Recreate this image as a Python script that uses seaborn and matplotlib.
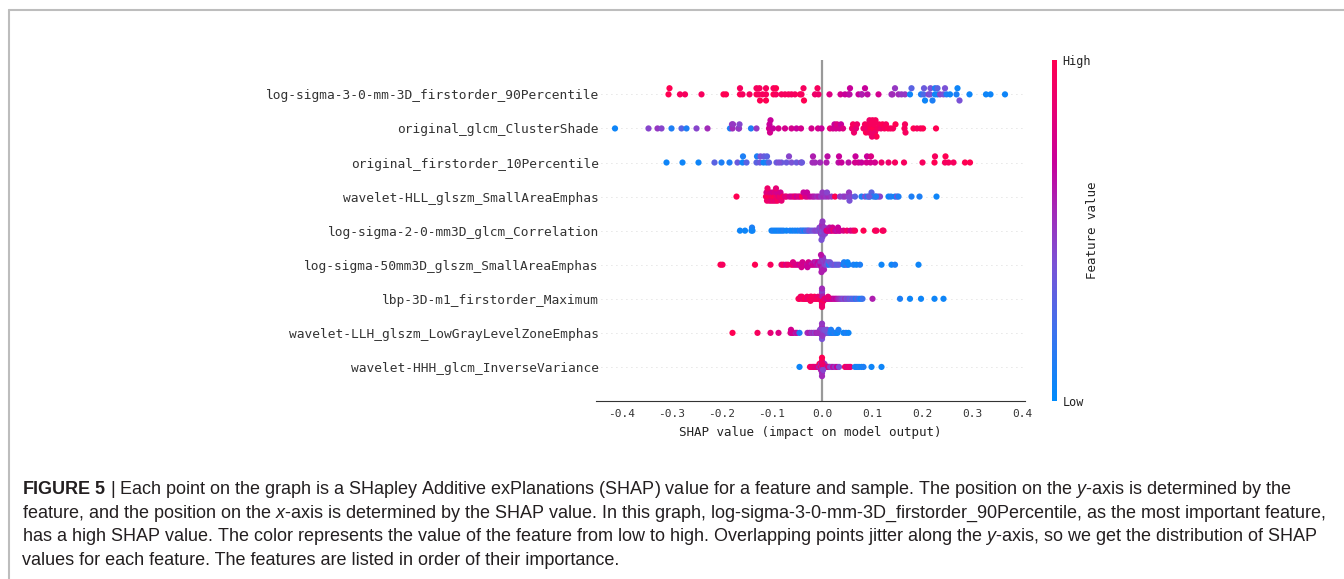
import numpy as np
import pandas as pd
import matplotlib
matplotlib.use("Agg")
import matplotlib.pyplot as plt
import seaborn as sns
from matplotlib import font_manager
from matplotlib.colors import LinearSegmentedColormap, Normalize
from matplotlib.cm import ScalarMappable
from matplotlib.lines import Line2D

# feature names, most important first
features = [
    "log-sigma-3-0-mm-3D_firstorder_90Percentile",
    "original_glcm_ClusterShade",
    "original_firstorder_10Percentile",
    "wavelet-HLL_glszm_SmallAreaEmphas",
    "log-sigma-2-0-mm3D_glcm_Correlation",
    "log-sigma-50mm3D_glszm_SmallAreaEmphas",
    "lbp-3D-m1_firstorder_Maximum",
    "wavelet-LLH_glszm_LowGrayLevelZoneEmphas",
    "wavelet-HHH_glcm_InverseVariance",
]

x_ticks = [-0.4, -0.3, -0.2, -0.1, 0.0, 0.1, 0.2, 0.3, 0.4]
x_tick_labels = ["-0.4", "-0.3", "-0.2", "-0.1", "0.0", "0.1", "0.2", "0.3", "0.4"]

# SHAP values and (scaled) feature values, one pair per row
shap_r1 = [-0.307, -0.305, -0.284, -0.274, -0.241, -0.197, -0.192, -0.164, -0.164, -0.159,
           -0.145, -0.131, -0.131, -0.127, -0.125, -0.124, -0.119, -0.112, -0.112, -0.112,
           -0.097, -0.097, -0.092, -0.092, -0.081, -0.074, -0.067, -0.061, -0.054, -0.044,
           -0.041, -0.037, -0.036, -0.014, -0.009, -0.007, 0.015, 0.037, 0.046, 0.053,
           0.055, 0.056, 0.073, 0.079, 0.080, 0.086, 0.091, 0.113, 0.139, 0.141,
           0.146, 0.153, 0.159, 0.166, 0.176, 0.179, 0.198, 0.203, 0.204, 0.206,
           0.213, 0.216, 0.217, 0.221, 0.226, 0.226, 0.231, 0.231, 0.236, 0.243,
           0.246, 0.249, 0.256, 0.269, 0.271, 0.275, 0.295, 0.328, 0.337, 0.366]
feat_r1 = [1.0, 1.0, 0.95, 0.95, 0.95, 1.0, 1.0, 1.0, 0.95, 0.95,
           0.95, 1.0, 0.95, 0.95, 0.95, 1.0, 0.95, 0.95, 0.95, 1.0,
           1.0, 0.95, 0.95, 1.0, 0.95, 0.95, 0.95, 0.95, 0.95, 1.0,
           0.95, 0.95, 1.0, 0.9, 0.95, 0.9, 0.8, 0.75, 0.7, 0.72,
           0.65, 0.7, 0.7, 0.65, 0.6, 0.7, 0.65, 0.75, 0.55, 0.55,
           0.5, 0.55, 0.5, 0.5, 0.05, 0.3, 0.1, 0.25, 0.35, 0.05,
           0.45, 0.4, 0.4, 0.1, 0.05, 0.1, 0.05, 0.3, 0.45, 0.4,
           0.4, 0.1, 0.05, 0.1, 0.05, 0.4, 0.05, 0.05, 0.05, 0.05]

shap_r2 = [-0.414, -0.347, -0.329, -0.321, -0.301, -0.281, -0.271, -0.251, -0.229, -0.184,
           -0.180, -0.179, -0.178, -0.167, -0.166, -0.165, -0.142, -0.131, -0.106, -0.105,
           -0.104, -0.103, -0.098, -0.087, -0.074, -0.061, -0.051, -0.042, -0.021, -0.008,
           -0.001, 0.016, 0.022, 0.025, 0.028, 0.030, 0.035, 0.038, 0.042, 0.060,
           0.062, 0.064, 0.068, 0.070, 0.083, 0.085, 0.086, 0.088, 0.090, 0.092,
           0.094, 0.095, 0.097, 0.098, 0.100, 0.101, 0.103, 0.104, 0.106, 0.107,
           0.109, 0.112, 0.114, 0.118, 0.121, 0.125, 0.128, 0.132, 0.137, 0.142,
           0.147, 0.165, 0.166, 0.167, 0.183, 0.190, 0.197, 0.202, 0.228, 0.100]
feat_r2 = [0.05, 0.45, 0.5, 0.45, 0.1, 0.3, 0.1, 0.45, 0.55, 0.1,
           0.5, 0.55, 0.5, 0.45, 0.5, 0.45, 0.1, 0.5, 0.75, 0.7,
           0.75, 0.7, 0.7, 0.75, 0.75, 0.75, 0.7, 0.75, 0.75, 0.75,
           0.7, 0.85, 0.75, 0.7, 0.75, 0.8, 0.75, 0.7, 0.8, 0.9,
           0.95, 0.9, 0.85, 0.9, 0.95, 0.9, 0.95, 1.0, 0.9, 0.95,
           0.95, 0.9, 1.0, 0.95, 0.9, 0.95, 1.0, 0.95, 0.9, 0.95,
           1.0, 0.95, 0.95, 0.9, 1.0, 0.95, 0.95, 1.0, 0.95, 0.95,
           1.0, 0.95, 0.95, 0.95, 1.0, 0.95, 0.95, 1.0, 1.0, 0.9]

shap_r3 = [-0.311, -0.279, -0.247, -0.215, -0.201, -0.185, -0.169, -0.159, -0.158, -0.151,
           -0.131, -0.130, -0.124, -0.123, -0.117, -0.116, -0.111, -0.110, -0.106, -0.091,
           -0.081, -0.071, -0.061, -0.051, -0.042, -0.040, -0.019, -0.018, -0.014, -0.004,
           0.009, 0.033, 0.034, 0.039, 0.053, 0.066, 0.067, 0.073, 0.079, 0.089,
           0.090, 0.097, 0.098, 0.106, 0.119, 0.133, 0.146, 0.164, 0.201, 0.225,
           0.226, 0.246, 0.247, 0.253, 0.263, 0.286, 0.296, -0.086, -0.066, 0.011]
feat_r3 = [0.05, 0.05, 0.05, 0.3, 0.1, 0.1, 0.35, 0.05, 0.1, 0.3,
           0.3, 0.1, 0.35, 0.4, 0.05, 0.35, 0.1, 0.3, 0.3, 0.35,
           0.35, 0.35, 0.4, 0.35, 0.45, 0.35, 0.55, 0.6, 0.55, 0.55,
           0.6, 0.65, 0.7, 0.7, 0.65, 0.75, 0.7, 0.75, 0.7, 0.75,
           0.7, 0.75, 0.8, 0.75, 0.9, 0.9, 0.95, 0.95, 0.95, 1.0,
           0.95, 0.95, 1.0, 0.95, 0.95, 1.0, 1.0, 0.4, 0.45, 0.65]

shap_r4 = [-0.171, -0.112, -0.111, -0.110, -0.108, -0.107, -0.105, -0.103, -0.103, -0.101,
           -0.099, -0.098, -0.097, -0.095, -0.095, -0.093, -0.091, -0.090, -0.089, -0.086,
           -0.084, -0.083, -0.081, -0.078, -0.074, -0.071, -0.061, -0.057, -0.054, -0.051,
           -0.047, -0.044, -0.040, -0.037, -0.033, -0.029, -0.024, -0.019, -0.015, -0.010,
           -0.006, -0.002, 0.003, 0.008, 0.013, 0.019, 0.026, 0.036, 0.042, 0.046,
           0.053, 0.054, 0.055, 0.057, 0.066, 0.079, 0.086, 0.091, 0.096, 0.099,
           0.103, 0.107, 0.112, 0.116, 0.133, 0.138, 0.146, 0.150, 0.153, 0.179,
           0.195, 0.229, -0.065, -0.030, 0.001, 0.010, 0.094, 0.108, -0.109, -0.092]
feat_r4 = [1.0, 0.95, 0.8, 0.9, 1.0, 0.85, 0.9, 0.95, 0.8, 0.85,
           0.95, 0.75, 0.9, 1.0, 0.8, 0.85, 0.9, 0.75, 0.95, 0.8,
           0.9, 0.75, 0.85, 0.95, 0.8, 0.85, 0.8, 0.75, 0.95, 0.7,
           0.85, 0.75, 1.0, 0.7, 0.75, 0.8, 0.7, 0.65, 0.6, 0.55,
           0.6, 0.5, 0.55, 0.5, 0.55, 0.5, 1.0, 0.5, 0.45, 0.5,
           0.45, 0.5, 0.4, 0.45, 0.3, 0.1, 0.4, 0.1, 0.05, 0.3,
           0.1, 0.35, 0.4, 0.45, 0.05, 0.1, 0.05, 0.4, 0.1, 0.1,
           0.1, 0.05, 0.75, 0.7, 0.5, 0.45, 0.35, 0.1, 0.9, 0.85]

shap_r5 = [-0.164, -0.154, -0.141, -0.140, -0.139, -0.101, -0.097, -0.093, -0.089, -0.085,
           -0.081, -0.077, -0.071, -0.064, -0.059, -0.054, -0.049, -0.044, -0.041, -0.038,
           -0.035, -0.032, -0.029, -0.027, -0.024, -0.020, -0.016, -0.013, -0.009, -0.007,
           -0.005, -0.004, -0.003, -0.002, -0.001, 0.000, 0.000, 0.000, 0.001, 0.001,
           0.002, 0.003, 0.004, 0.005, 0.006, 0.009, 0.011, 0.013, 0.015, 0.017,
           0.019, 0.021, 0.023, 0.026, 0.028, 0.030, 0.032, 0.034, 0.036, 0.043,
           0.050, 0.057, 0.062, 0.066, 0.083, 0.106, 0.109, 0.121, 0.123, -0.001]
feat_r5 = [0.05, 0.05, 0.05, 0.1, 0.05, 0.05, 0.1, 0.05, 0.05, 0.1,
           0.05, 0.1, 0.05, 0.1, 0.05, 0.1, 0.05, 0.15, 0.1, 0.2,
           0.05, 0.3, 0.15, 0.35, 0.4, 0.35, 0.4, 0.45, 0.45, 0.4,
           0.5, 0.45, 0.4, 0.5, 0.45, 0.5, 0.4, 0.55, 0.45, 0.5,
           0.4, 0.55, 0.45, 0.5, 0.45, 0.7, 0.9, 0.75, 0.65, 0.8,
           0.7, 0.75, 0.9, 0.7, 0.75, 0.65, 0.7, 0.75, 0.7, 0.8,
           0.9, 0.75, 0.85, 0.95, 1.0, 1.0, 0.95, 1.0, 0.95, 0.4]

shap_r6 = [-0.203, -0.199, -0.134, -0.103, -0.081, -0.077, -0.072, -0.061, -0.057, -0.053,
           -0.049, -0.045, -0.042, -0.039, -0.036, -0.033, -0.030, -0.027, -0.024, -0.021,
           -0.018, -0.016, -0.014, -0.012, -0.010, -0.008, -0.006, -0.004, -0.003, -0.002,
           -0.001, 0.000, 0.000, 0.000, 0.001, 0.001, 0.002, 0.003, 0.004, 0.006,
           0.008, 0.010, 0.012, 0.014, 0.016, 0.019, 0.022, 0.026, 0.030, 0.034,
           0.043, 0.046, 0.050, 0.053, 0.063, 0.069, 0.076, 0.119, 0.139, 0.146,
           0.193, -0.001, 0.002, -0.002, 0.044, 0.051, -0.068, -0.058, -0.041, -0.029]
feat_r6 = [1.0, 0.95, 1.0, 0.95, 0.85, 0.95, 0.8, 0.85, 0.9, 0.75,
           0.8, 0.7, 0.85, 0.75, 0.7, 0.8, 0.65, 0.75, 0.7, 0.6,
           0.75, 0.65, 0.7, 0.6, 0.65, 0.7, 0.55, 0.6, 0.7, 0.5,
           0.65, 0.55, 0.6, 0.45, 0.7, 0.5, 0.55, 0.45, 0.6, 0.45,
           0.5, 0.4, 0.35, 0.1, 0.4, 0.3, 0.35, 0.4, 0.3, 0.35,
           0.05, 0.1, 0.3, 0.05, 0.1, 0.05, 0.1, 0.05, 0.05, 0.1,
           0.05, 0.6, 0.5, 0.65, 0.1, 0.05, 0.9, 0.8, 0.75, 0.7]

shap_r7 = [-0.047, -0.045, -0.043, -0.040, -0.040, -0.037, -0.035, -0.033, -0.030, -0.030,
           -0.028, -0.025, -0.023, -0.023, -0.020, -0.018, -0.015, -0.015, -0.012, -0.010,
           -0.008, -0.006, -0.004, -0.002, -0.001, -0.001, 0.000, 0.000, 0.000, 0.000,
           0.000, 0.000, 0.000, 0.001, 0.001, 0.003, 0.005, 0.007, 0.010, 0.013,
           0.016, 0.019, 0.022, 0.025, 0.028, 0.031, 0.034, 0.037, 0.040, 0.043,
           0.046, 0.049, 0.052, 0.055, 0.058, 0.061, 0.064, 0.067, 0.070, 0.074,
           0.078, 0.081, 0.101, 0.156, 0.176, 0.198, 0.225, 0.243, -0.021, 0.012]
feat_r7 = [1.0, 0.95, 0.9, 1.0, 0.95, 0.85, 0.95, 1.0, 0.9, 0.95,
           0.85, 1.0, 0.9, 0.95, 1.0, 0.9, 0.95, 1.0, 0.9, 0.95,
           0.85, 1.0, 0.9, 0.95, 0.8, 0.9, 0.95, 1.0, 0.5, 0.85,
           0.45, 0.9, 0.55, 1.0, 0.6, 0.95, 0.85, 0.9, 0.8, 0.75,
           0.8, 0.7, 0.75, 0.65, 0.7, 0.6, 0.55, 0.5, 0.45, 0.4,
           0.5, 0.35, 0.45, 0.3, 0.4, 0.2, 0.35, 0.1, 0.3, 0.15,
           0.05, 0.2, 0.6, 0.1, 0.05, 0.05, 0.05, 0.05, 0.95, 0.85]

shap_r8 = [-0.179, -0.129, -0.103, -0.087, -0.063, -0.060, -0.057, -0.053, -0.050, -0.045,
           -0.029, -0.025, -0.021, -0.017, -0.014, -0.011, -0.008, -0.006, -0.004, -0.002,
           -0.001, 0.000, 0.000, 0.000, 0.000, 0.000, 0.001, 0.002, 0.004, 0.006,
           0.008, 0.010, 0.012, 0.014, 0.016, 0.019, 0.022, 0.025, 0.028, 0.031,
           0.033, 0.043, 0.048, 0.053, -0.002, 0.001, -0.009, 0.005, -0.062, 0.018]
feat_r8 = [1.0, 0.95, 0.85, 0.8, 0.8, 0.7, 0.75, 0.6, 0.65, 0.1,
           0.55, 0.6, 0.5, 0.55, 0.45, 0.6, 0.5, 0.65, 0.45, 0.5,
           0.7, 0.55, 0.45, 0.6, 0.4, 0.5, 0.4, 0.6, 0.45, 0.5,
           0.35, 0.45, 0.3, 0.4, 0.2, 0.1, 0.05, 0.15, 0.1, 0.05,
           0.1, 0.05, 0.1, 0.05, 0.45, 0.5, 0.55, 0.4, 0.75, 0.1]

shap_r9 = [-0.045, -0.024, -0.020, -0.017, -0.014, -0.011, -0.009, -0.007, -0.006, -0.005,
           -0.004, -0.003, -0.002, -0.001, 0.000, 0.000, 0.000, 0.000, 0.000, 0.001,
           0.002, 0.003, 0.004, 0.005, 0.006, 0.008, 0.010, 0.012, 0.014, 0.016,
           0.019, 0.022, 0.026, 0.030, 0.034, 0.046, 0.050, 0.054, 0.057, 0.066,
           0.070, 0.074, 0.079, 0.083, 0.099, 0.119, 0.000, -0.002, 0.002, 0.001]
feat_r9 = [0.05, 0.95, 0.85, 0.9, 0.8, 0.95, 0.7, 0.9, 0.6, 1.0,
           0.5, 0.85, 0.55, 0.95, 0.75, 0.45, 0.9, 0.5, 1.0, 0.45,
           0.9, 0.65, 1.0, 0.5, 0.8, 0.95, 0.6, 0.75, 0.85, 0.5,
           0.45, 0.65, 0.5, 0.7, 0.4, 0.95, 0.8, 0.9, 0.85, 0.1,
           0.05, 0.1, 0.05, 0.1, 0.05, 0.05, 0.55, 0.6, 0.45, 0.9]

shap_rows = [shap_r1, shap_r2, shap_r3, shap_r4, shap_r5, shap_r6, shap_r7, shap_r8, shap_r9]
feat_rows = [feat_r1, feat_r2, feat_r3, feat_r4, feat_r5, feat_r6, feat_r7, feat_r8, feat_r9]

caption_lines = [
    r"$\mathbf{FIGURE\ 5}$ | Each point on the graph is a SHapley Additive exPlanations (SHAP) value for a feature and sample. The position on the $\mathit{y}$-axis is determined by the",
    r"feature, and the position on the $\mathit{x}$-axis is determined by the SHAP value. In this graph, log-sigma-3-0-mm-3D_firstorder_90Percentile, as the most important feature,",
    r"has a high SHAP value. The color represents the value of the feature from low to high. Overlapping points jitter along the $\mathit{y}$-axis, so we get the distribution of SHAP",
    r"values for each feature. The features are listed in order of their importance.",
]


def swarm_offsets(vals, nbins=100, row_height=0.4):
    """beeswarm stacking like shap's summary plot"""
    vals = np.asarray(vals, dtype=float)
    quant = np.round(nbins * (vals - vals.min()) / (vals.max() - vals.min() + 1e-8))
    inds = np.argsort(quant, kind="mergesort")
    ys = np.zeros(len(vals))
    layer = 0
    last_bin = -1
    for i in inds:
        if quant[i] != last_bin:
            layer = 0
        ys[i] = np.ceil(layer / 2) * ((layer % 2) * 2 - 1)
        layer += 1
        last_bin = quant[i]
    ys *= 0.9 * (row_height / np.max(ys + 1))
    return ys


n = len(features)
frames = []
for k, (sv, fv) in enumerate(zip(shap_rows, feat_rows)):
    assert len(sv) == len(fv), features[k]
    pos = n - 1 - k
    frames.append(pd.DataFrame({"shap": sv, "fval": fv,
                                "y": pos + swarm_offsets(sv), "row": k}))
df = pd.concat(frames, ignore_index=True)

red_blue = LinearSegmentedColormap.from_list("red_blue", [
    (0.0, "#008bfb"), (0.2, "#3c72ee"), (0.4, "#7a52d6"), (0.55, "#a12bb9"),
    (0.7, "#c8009a"), (0.85, "#e60075"), (1.0, "#ff0052")])

sns.set_style("white")
names = {f.name for f in font_manager.fontManager.ttflist}
cap_font = "Liberation Sans Narrow" if "Liberation Sans Narrow" in names else "Liberation Sans"
cap_size = 12 if cap_font.endswith("Narrow") else 13
mono = "DejaVu Sans Mono"
plt.rcParams["font.family"] = [mono, "DejaVu Sans"]
plt.rcParams["mathtext.fontset"] = "custom"
plt.rcParams["mathtext.rm"] = cap_font
plt.rcParams["mathtext.it"] = cap_font + ":italic"
plt.rcParams["mathtext.bf"] = cap_font + ":bold"

W, H = 1344, 579
fig = plt.figure(figsize=(W / 100, H / 100), dpi=100)
ax = fig.add_axes([596 / W, (H - 401) / H, (1025 - 596) / W, (401 - 60.3) / H])

for k in range(n):
    ax.axhline(n - 1 - k, color="#cccccc", lw=0.6, dashes=(1, 5), zorder=-1)
ax.axvline(0, color="#999999", lw=1.6, zorder=-1)

sns.scatterplot(data=df, x="shap", y="y", hue="fval", palette=red_blue,
                hue_norm=(0, 1), s=20, linewidth=0, legend=False, ax=ax, zorder=3)

ax.set_xlim(-0.452, 0.406)
ax.set_ylim(-1, n)
ax.set_yticks(range(n))
ax.set_yticklabels(features[::-1], fontsize=9.3, color="#333333")
ax.tick_params(axis="y", length=0, pad=-2)
ax.set_xticks(x_ticks)
ax.set_xticklabels(x_tick_labels, fontsize=8, color="#333333")
ax.tick_params(axis="x", length=4, width=0.8, color="#333333", pad=2)
ax.set_xlabel("SHAP value (impact on model output)", fontsize=9, color="#222222", labelpad=5)
ax.set_ylabel("")
for side in ["left", "top", "right"]:
    ax.spines[side].set_visible(False)
ax.spines["bottom"].set_color("#333333")
ax.spines["bottom"].set_linewidth(0.8)
ax.grid(False)

# colour bar
cax = fig.add_axes([1051.7 / W, (H - 400.5) / H, 5 / W, (400.5 - 60) / H])
cb = fig.colorbar(ScalarMappable(norm=Normalize(0, 1), cmap=red_blue), cax=cax)
cb.outline.set_visible(False)
cb.set_ticks([0, 1])
cb.set_ticklabels(["Low", "High"])
cb.ax.tick_params(length=0, labelsize=8.5, pad=4, colors="#222222")
fig.text(1093 / W, 1 - 230 / H, "Feature value", rotation=90, ha="center",
         va="center", fontsize=9, color="#222222")

# border of the figure panel
fig.add_artist(Line2D([9 / W, 1], [1 - 10 / H] * 2, transform=fig.transFigure,
                      color="#bdbdbd", lw=1.5))
fig.add_artist(Line2D([9 / W] * 2, [1 - 10 / H, 0], transform=fig.transFigure,
                      color="#bdbdbd", lw=1.5))

# caption
for i, line in enumerate(caption_lines):
    fig.text(22 / W, 1 - (490 + 23.4 * i) / H, line, ha="left", va="center",
             fontsize=cap_size, family=cap_font, color="#231f20")

fig.savefig("out.png", dpi=100)
